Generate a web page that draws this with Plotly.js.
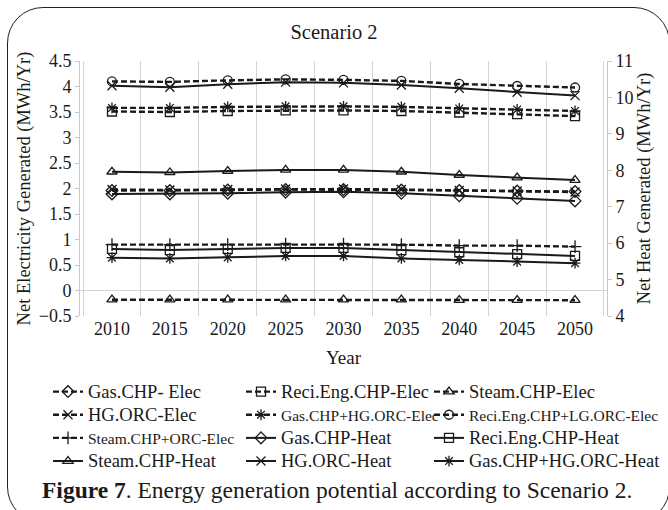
<!DOCTYPE html>
<html>
<head>
<meta charset="utf-8">
<script src="https://cdn.plot.ly/plotly-3.0.1.min.js"></script>
<style>
  html, body { margin: 0; padding: 0; background: #ffffff; overflow: hidden; }
  #wrap { position: relative; width: 668px; height: 510px; overflow: hidden; }
  #frame { position: absolute; left: 7px; top: 7px; width: 663px; height: 516px;
           border: 1.6px solid #231f20; border-radius: 36px; box-sizing: border-box; pointer-events: none; }
  #chart { position: absolute; left: 0; top: 0; width: 668px; height: 510px; }
</style>
</head>
<body>
<div id="wrap">
  <div id="frame"></div>
  <div id="chart"></div>
</div>
<script>
// ---- data ----
const years = ['2010', '2015', '2020', '2025', '2030', '2035', '2040', '2045', '2050'];

// Net electricity (left axis, MWh/Yr)
const gasChpElec          = [1.96, 1.96, 1.97, 1.98, 1.98, 1.97, 1.96, 1.95, 1.94];
const reciEngChpElec      = [3.51, 3.50, 3.52, 3.53, 3.53, 3.52, 3.49, 3.46, 3.42];
const steamChpElec        = [-0.18, -0.18, -0.18, -0.18, -0.18, -0.18, -0.19, -0.19, -0.19];
const hgOrcElec           = [1.98, 1.97, 1.98, 1.99, 1.99, 1.98, 1.96, 1.95, 1.93];
const gasChpHgOrcElec     = [3.58, 3.58, 3.60, 3.61, 3.61, 3.60, 3.57, 3.55, 3.52];
const reciEngChpLgOrcElec = [4.10, 4.09, 4.12, 4.14, 4.13, 4.11, 4.05, 4.01, 3.98];
const steamChpOrcElec     = [0.90, 0.90, 0.90, 0.91, 0.91, 0.90, 0.88, 0.88, 0.86];

// Net heat (right axis, MWh/Yr)
const gasChpHeat          = [7.35, 7.35, 7.37, 7.40, 7.41, 7.37, 7.30, 7.23, 7.16];
const reciEngChpHeat      = [5.84, 5.81, 5.84, 5.87, 5.87, 5.81, 5.75, 5.70, 5.65];
const steamChpHeat        = [7.96, 7.94, 7.98, 8.01, 8.01, 7.96, 7.87, 7.80, 7.73];
const hgOrcHeat           = [10.32, 10.28, 10.36, 10.42, 10.40, 10.34, 10.25, 10.14, 10.05];
const gasChpHgOrcHeat     = [5.60, 5.58, 5.61, 5.65, 5.65, 5.58, 5.54, 5.49, 5.45];

const seriesNames = [
  'Gas.CHP- Elec', 'Reci.Eng.CHP-Elec', 'Steam.CHP-Elec',
  'HG.ORC-Elec', 'Gas.CHP+HG.ORC-Elec', 'Reci.Eng.CHP+LG.ORC-Elec',
  'Steam.CHP+ORC-Elec', 'Gas.CHP-Heat', 'Reci.Eng.CHP-Heat',
  'Steam.CHP-Heat', 'HG.ORC-Heat', 'Gas.CHP+HG.ORC-Heat'
];
const seriesValues = [
  gasChpElec, reciEngChpElec, steamChpElec,
  hgOrcElec, gasChpHgOrcElec, reciEngChpLgOrcElec,
  steamChpOrcElec, gasChpHeat, reciEngChpHeat,
  steamChpHeat, hgOrcHeat, gasChpHgOrcHeat
];
const seriesAxis = ['y','y','y','y','y','y','y','y2','y2','y2','y2','y2'];
const seriesDash = ['d','d','d','d','d','d','d','s','s','s','s','s'];
const seriesSymbol = [
  'diamond-open', 'square-open', 'triangle-up-open',
  'x-thin-open', 'asterisk-open', 'circle-open',
  'cross-thin-open', 'diamond-open', 'square-open',
  'triangle-up-open', 'x-thin-open', 'asterisk-open'
];
const seriesSmallLabel = [false,false,false,false,true,true,true,false,false,false,false,false];
// legend column of each series (three legends, one per column)
const seriesLegend = ['legend','legend2','legend3','legend','legend2','legend3','legend','legend2','legend3','legend','legend2','legend3'];

const SERIF = 'Liberation Serif';
const INK = '#1a1a1a';

const traces = seriesNames.map((name, i) => ({
  type: 'scatter',
  mode: 'lines+markers',
  x: years,
  y: seriesValues[i],
  yaxis: seriesAxis[i],
  legend: seriesLegend[i],
  name: seriesSmallLabel[i]
    ? '<span style="font-size:15.5px">' + name + '</span>'
    : '<span style="font-size:18.5px">' + name + '</span>',
  line: { color: INK, width: seriesDash[i] === 'd' ? 2.4 : 2, dash: seriesDash[i] === 'd' ? '6px,3px' : 'solid' },
  marker: { symbol: seriesSymbol[i], size: 9, color: INK, line: { color: INK, width: 1.3 } },
  cliponaxis: false
}));

// legends: y in container so they do not push the margins
const legendBase = {
  orientation: 'v',
  xref: 'paper', xanchor: 'left',
  yref: 'container', y: (510 - 375) / 510, yanchor: 'top',
  font: { family: SERIF, size: 15.5, color: INK },
  bgcolor: 'rgba(0,0,0,0)',
  traceorder: 'normal',
  tracegroupgap: 0
};

const layout = {
  width: 668,
  height: 510,
  margin: { l: 80, r: 61, t: 61, b: 194, pad: 0 },
  paper_bgcolor: 'rgba(0,0,0,0)',
  plot_bgcolor: 'rgba(0,0,0,0)',
  font: { family: SERIF, color: INK, size: 18 },
  title: {
    text: 'Scenario 2',
    font: { family: SERIF, size: 20.5, color: INK },
    x: 0.5, xref: 'container', xanchor: 'center',
    y: 1 - 32 / 510, yref: 'container', yanchor: 'middle'
  },
  showlegend: true,
  legend:  Object.assign({}, legendBase, { x: (48 - 80) / 527 }),
  legend2: Object.assign({}, legendBase, { x: (241 - 80) / 527 }),
  // third column: one entry per row, placed in container coordinates (no margin push)
  legend3: Object.assign({}, legendBase, {
    orientation: 'h', xref: 'container', x: 429 / 668,
    entrywidth: 400, entrywidthmode: 'pixels'
  }),
  xaxis: {
    type: 'category',
    tickson: 'boundaries',
    showgrid: true,
    gridcolor: '#d4d4d4',
    gridwidth: 1,
    ticks: '',
    showline: false,
    zeroline: false,
    tickfont: { family: SERIF, size: 18, color: INK },
    title: { text: 'Year', font: { family: SERIF, size: 19, color: INK }, standoff: 12 },
    automargin: false
  },
  yaxis: {
    range: [-0.5, 4.5],
    dtick: 0.5,
    tick0: 0,
    showgrid: false,
    zeroline: true,
    zerolinecolor: '#d4d4d4',
    zerolinewidth: 1,
    showline: true,
    linecolor: '#c8c8c8',
    linewidth: 1,
    ticks: 'outside',
    ticklen: 4,
    tickcolor: '#c8c8c8',
    tickfont: { family: SERIF, size: 18, color: INK },
    title: { text: 'Net Electricity Generated (MWh/Yr)', font: { family: SERIF, size: 18.5, color: INK }, standoff: 3 },
    automargin: false
  },
  yaxis2: {
    overlaying: 'y',
    side: 'right',
    range: [4, 11],
    dtick: 1,
    showgrid: false,
    zeroline: false,
    showline: true,
    linecolor: '#c8c8c8',
    linewidth: 1,
    ticks: 'outside',
    ticklen: 4,
    tickcolor: '#c8c8c8',
    tickfont: { family: SERIF, size: 18, color: INK },
    title: { text: 'Net Heat Generated (MWh/Yr)', font: { family: SERIF, size: 18.5, color: INK }, standoff: 0 },
    automargin: false
  },
  annotations: [{
    text: '<b>Figure 7</b>. Energy generation potential according to Scenario 2.',
    xref: 'paper', yref: 'paper',
    x: 0.4877, xanchor: 'center',
    y: -(490 - 316) / 255, yanchor: 'middle',
    showarrow: false,
    font: { family: SERIF, size: 23.5, color: INK }
  }]
};

Plotly.newPlot('chart', traces, layout, { displayModeBar: false, staticPlot: true });
</script>
</body>
</html>
